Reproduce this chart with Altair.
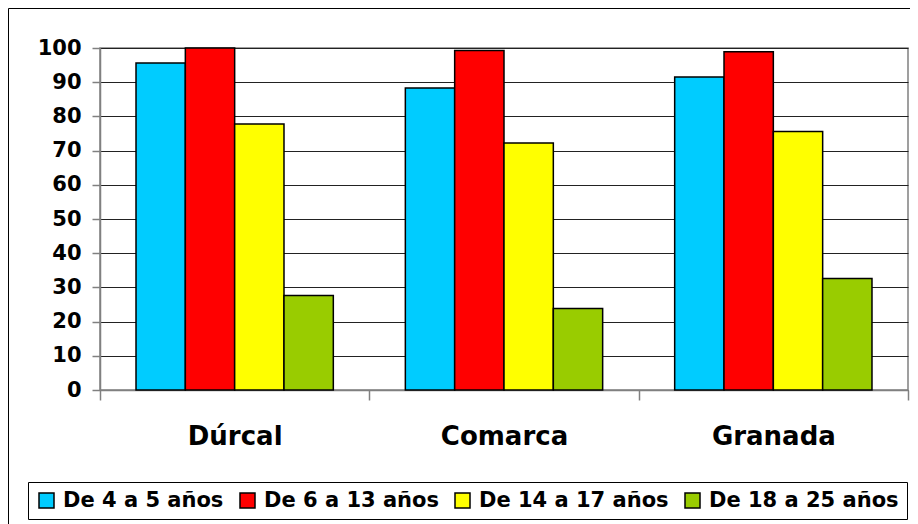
import altair as alt
import pandas as pd

regions = ["Dúrcal", "Comarca", "Granada"]
series = ["De 4 a 5 años", "De 6 a 13 años", "De 14 a 17 años", "De 18 a 25 años"]
colors = ["#00CCFF", "#FF0000", "#FFFF00", "#99CC00"]
v_4_5 = [95.6, 88.3, 91.5]
v_6_13 = [100.0, 99.3, 98.9]
v_14_17 = [77.8, 72.2, 75.6]
v_18_25 = [27.6, 23.8, 32.6]
y_ticks = list(range(0, 101, 10))

rows = []
for s, vals in zip(series, [v_4_5, v_6_13, v_14_17, v_18_25]):
    for r, v in zip(regions, vals):
        rows.append({"region": r, "serie": s, "valor": v})
df = pd.DataFrame(rows)

W, H = 808, 342
FONT = "DejaVu Sans"

legend_cfg = dict(
    title=None, orient="none", legendX=-72, legendY=434,
    direction="horizontal", symbolType="square", symbolSize=225,
    symbolStrokeColor="black", symbolStrokeWidth=1.5, symbolOpacity=1,
    labelFont=FONT, labelFontSize=21, labelFontWeight="bold",
    labelColor="black", labelOffset=6, columnPadding=13, labelLimit=400,
    padding=8, strokeColor="black", fillColor="white",
)

bars = alt.Chart(df).mark_bar(strokeWidth=1.5).encode(
    x=alt.X(
        "region:N", sort=regions,
        scale=alt.Scale(paddingInner=0, paddingOuter=0),
        axis=alt.Axis(
            title=None, labelAngle=0, labelFont=FONT, labelFontSize=26,
            labelFontWeight="bold", labelColor="black", tickBand="extent",
            tickSize=10, tickColor="#808080", tickWidth=1.5,
            domainColor="#808080", domainWidth=1.5, labelPadding=23, grid=False,
        ),
    ),
    xOffset=alt.XOffset(
        "serie:N", sort=series,
        scale=alt.Scale(paddingInner=0, paddingOuter=0.73),
    ),
    y=alt.Y(
        "valor:Q",
        scale=alt.Scale(domain=[0, 100], nice=False),
        axis=alt.Axis(
            title=None, values=y_ticks, labelFont=FONT, labelFontSize=21,
            labelFontWeight="bold", labelColor="black", tickSize=8,
            tickColor="#808080", tickWidth=1.5, domainColor="#808080",
            domainWidth=1.5, labelPadding=11, grid=True, gridColor="#222222",
            gridWidth=1,
        ),
    ),
    color=alt.Color(
        "serie:N", sort=series,
        scale=alt.Scale(domain=series, range=colors),
        legend=alt.Legend(**legend_cfg),
    ),
    stroke=alt.Stroke(
        "serie:N", sort=series,
        scale=alt.Scale(domain=series, range=["black"] * len(series)),
        legend=alt.Legend(**legend_cfg),
    ),
)

frame = alt.Chart(pd.DataFrame({"k": [0]})).mark_rect(
    fillOpacity=0, stroke="black", strokeWidth=1
).encode(
    x=alt.value(-91.5), x2=alt.value(830),
    y=alt.value(-39.5), y2=alt.value(490),
)

chart = alt.layer(bars, frame).properties(
    width=W, height=H,
    autosize=alt.AutoSizeParams(type="none"),
    padding={"left": 92, "top": 40, "right": 2, "bottom": 134},
).configure_view(stroke="#808080", strokeWidth=1.5)

chart.save("out.html", embed_options={"renderer": "svg", "actions": False})
